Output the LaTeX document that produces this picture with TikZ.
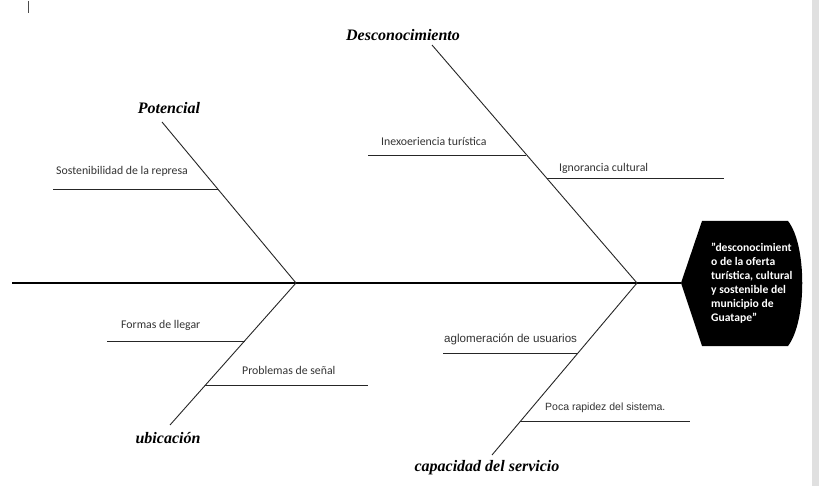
\documentclass[tikz,border=0pt]{standalone}
\usepackage{fontspec}
\setmainfont{Carlito}
\newfontfamily\arialf{Liberation Sans}
\newfontfamily\headf{Liberation Serif}
\begin{document}
\begin{tikzpicture}[x=1pt,y=-1pt,
  bone/.style={draw=black!85,line width=0.9pt},
  spine/.style={draw=black,line width=1.8pt},
  lbl/.style={anchor=west,inner sep=0pt,font=\fontsize{11.8}{13}\selectfont,text=black!80},
  albl/.style={anchor=west,inner sep=0pt,font=\arialf\fontsize{11.6}{13}\selectfont,text=black!80},
  head/.style={inner sep=0pt,font=\headf\bfseries\itshape\fontsize{16}{18}\selectfont}]
\useasboundingbox (0,0) rectangle (819,486);
\fill[white] (0,0) rectangle (819,486);
\fill[black!12] (812,0) rectangle (819,486);
\draw[black!70,line width=1pt] (28,1) -- (28,13);
% effect box
\coordinate (tip) at (681,283);
\fill[black] (tip) -- (702,221) -- (788,221) .. controls (807,245) and (807,321) .. (788,346) -- (702,346) -- cycle;
\node[anchor=north west,inner sep=0pt,text=white,align=left,
  font=\bfseries\fontsize{11.6}{14}\selectfont] (effect) at (711,243)
  {"desconocimient\\o de la oferta\\turística, cultural\\y sostenible del\\municipio de\\Guatape"};
% spine
\coordinate (s0) at (12,283);
\coordinate (j1) at (296,283);
\coordinate (j2) at (637,283);
\draw[spine] (s0) -- (tip);
% bone ends
\coordinate (b1) at (162,122);
\coordinate (b2) at (432,45);
\coordinate (b3) at (170,425);
\coordinate (b4) at (492,455);
\draw[bone] (j1) -- (b1);
\draw[bone] (j2) -- (b2);
\draw[bone] (j1) -- (b3);
\draw[bone] (j2) -- (b4);
% headings
\node[head] (h1) at (169,108) {Potencial};
\node[head] (h2) at (403,35) {Desconocimiento};
\node[head] (h3) at (168,438) {ubicación};
\node[head] (h4) at (487,468) {capacidad del servicio};
% sub-bones
\coordinate (p1a) at (53,189);   \coordinate (p1b) at (218,189);
\coordinate (d1a) at (368,155);  \coordinate (d1b) at (526,155);
\coordinate (d2a) at (547,178);  \coordinate (d2b) at (724,178);
\coordinate (u1a) at (107,341);  \coordinate (u1b) at (245,341);
\coordinate (u2a) at (205,385);  \coordinate (u2b) at (368,385);
\coordinate (c1a) at (443,353);  \coordinate (c1b) at (578,353);
\coordinate (c2a) at (520,421);  \coordinate (c2b) at (690,421);
\foreach \a/\b in {p1a/p1b,d1a/d1b,d2a/d2b,u1a/u1b,u2a/u2b,c1a/c1b,c2a/c2b}
  \draw[bone] (\a) -- (\b);
% labels
\node[lbl] (t1) at (56,171) {Sostenibilidad de la represa};
\node[lbl] (t2) at (381,141) {Inexoeriencia turística};
\node[lbl] (t3) at (559,168) {Ignorancia cultural};
\node[lbl] (t4) at (121,325) {Formas de llegar};
\node[lbl] (t5) at (242,370) {Problemas de señal};
\node[albl] (t6) at (444,339) {aglomeración de usuarios};
\node[albl,font=\arialf\fontsize{10.5}{12}\selectfont] (t7) at (545,408) {Poca rapidez del sistema.};
\end{tikzpicture}
\end{document}
